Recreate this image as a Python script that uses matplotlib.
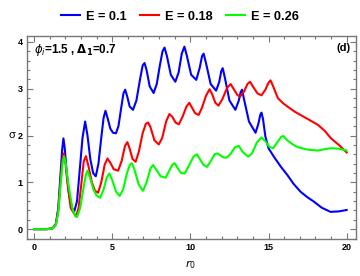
import numpy as np
import matplotlib.pyplot as plt
from matplotlib.ticker import MultipleLocator

# values
r_blue = [0, 0.8, 1.2, 1.4, 1.55, 1.68, 1.8, 1.88, 1.96, 2.08, 2.25, 2.42, 2.58, 2.75, 2.92, 3.1, 3.27,
          3.42, 3.6, 3.78, 3.95, 4.12, 4.3, 4.45, 4.57, 4.7, 4.88, 5.05, 5.24, 5.4, 5.58, 5.72, 5.83,
          5.95, 6.12, 6.33, 6.55, 6.78, 6.95, 7.07, 7.2, 7.4, 7.65, 7.85, 8.05, 8.22, 8.35, 8.5, 8.75,
          9.04, 9.25, 9.45, 9.62, 9.78, 10.05, 10.38, 10.6, 10.75, 10.85, 11.0, 11.3, 11.65, 11.85,
          11.98, 12.07, 12.2, 12.5, 12.88, 13.1, 13.22, 13.31, 13.45, 13.75, 14.17, 14.35, 14.48,
          14.55, 14.65, 14.8, 15.0, 15.34, 15.8, 16.2, 16.6, 17.05, 17.5, 17.9, 18.4, 18.97, 19.5, 20.0]
s_blue = [0, 0, 0.02, 0.12, 0.45, 1.1, 1.7, 1.94, 1.75, 1.25, 0.72, 0.45, 0.385, 0.6, 1.25, 1.95, 2.30,
          2.0, 1.5, 1.2, 1.13, 1.4, 1.95, 2.38, 2.53, 2.38, 2.15, 2.06, 2.05, 2.2, 2.6, 2.9, 2.98,
          2.85, 2.62, 2.55, 2.75, 3.2, 3.5, 3.55, 3.4, 3.05, 2.91, 3.1, 3.5, 3.8, 3.88, 3.7, 3.3,
          3.15, 3.35, 3.75, 3.90, 3.7, 3.3, 3.19, 3.45, 3.7, 3.75, 3.55, 3.1, 2.96, 3.15,
          3.38, 3.44, 3.25, 2.75, 2.55, 2.75, 2.93, 2.98, 2.75, 2.3, 2.06, 2.25, 2.45,
          2.49, 2.35, 1.98, 1.73, 1.55, 1.33, 1.16, 0.97, 0.80, 0.68, 0.59, 0.46, 0.37, 0.38, 0.41]

r_red = [0, 0.8, 1.2, 1.4, 1.55, 1.7, 1.82, 1.9, 2.0, 2.15, 2.35, 2.68, 2.85, 3.02, 3.18, 3.32, 3.48,
         3.7, 3.9, 4.1, 4.3, 4.52, 4.7, 4.88, 5.1, 5.38, 5.6, 5.82, 5.97, 6.12, 6.3, 6.5, 6.7, 6.95,
         7.15, 7.3, 7.45, 7.7, 7.98, 8.2, 8.45, 8.66, 8.85, 9.05, 9.26, 9.5, 9.75, 9.93, 10.1, 10.3,
         10.53, 10.75, 11.0, 11.23, 11.4, 11.6, 11.8, 12.05, 12.35, 12.58, 12.8, 13.0, 13.18, 13.45,
         13.65, 13.82, 14.0, 14.3, 14.55, 14.8, 15.0, 15.13, 15.3, 15.6, 15.93, 16.3, 16.68, 17.1,
         17.53, 18.16, 18.6, 19.0, 19.5, 20.0]
s_red = [0, 0, 0.02, 0.1, 0.4, 1.05, 1.5, 1.62, 1.45, 0.95, 0.45, 0.27, 0.45, 0.95, 1.45, 1.56, 1.35,
         1.0, 0.82, 0.78, 1.0, 1.38, 1.51, 1.42, 1.28, 1.25, 1.45, 1.78, 1.86, 1.72, 1.5, 1.44, 1.65, 2.05,
         2.25, 2.28, 2.18, 1.9, 1.81, 1.95, 2.3, 2.46, 2.4, 2.28, 2.24, 2.4, 2.62, 2.70, 2.6, 2.48,
         2.44, 2.6, 2.85, 2.99, 2.88, 2.7, 2.64, 2.78, 3.02, 3.10, 2.98, 2.87, 2.83, 2.95,
         3.1, 3.15, 3.05, 2.9, 2.86, 2.98, 3.13, 3.18, 3.05, 2.8, 2.69, 2.6, 2.51, 2.43,
         2.35, 2.23, 2.1, 1.94, 1.8, 1.64]

r_green = [0, 0.8, 1.2, 1.4, 1.55, 1.7, 1.82, 1.92, 2.02, 2.2, 2.45, 2.6, 2.75, 2.95, 3.15, 3.32, 3.42,
           3.58, 3.8, 4.0, 4.23, 4.45, 4.65, 4.82, 5.0, 5.25, 5.48, 5.7, 5.95, 6.12, 6.25, 6.4, 6.7,
           6.97, 7.2, 7.45, 7.62, 7.8, 8.1, 8.41, 8.65, 8.85, 9.0, 9.2, 9.4, 9.64, 9.9, 10.2, 10.42,
           10.6, 10.85, 11.06, 11.3, 11.55, 11.74, 11.95, 12.15, 12.33, 12.6, 12.85, 13.1, 13.35, 13.7,
           13.95, 14.25, 14.55, 14.8, 15.05, 15.3, 15.55, 15.8, 15.93, 16.2, 16.6, 16.9, 17.5, 18.16,
           18.6, 19.0, 19.5, 20.0]
s_green = [0, 0, 0.02, 0.1, 0.35, 0.95, 1.4, 1.56, 1.42, 0.95, 0.45, 0.3, 0.26, 0.45, 0.85, 1.17, 1.25,
           1.1, 0.85, 0.72, 0.67, 0.85, 1.1, 1.19, 1.05, 0.8, 0.71, 0.85, 1.2, 1.37, 1.41, 1.3, 0.95,
           0.82, 1.0, 1.3, 1.37, 1.28, 1.13, 1.10, 1.25, 1.38, 1.41, 1.3, 1.2, 1.19, 1.35, 1.55, 1.60,
           1.5, 1.37, 1.33, 1.45, 1.6, 1.62, 1.57, 1.53, 1.53, 1.62, 1.75, 1.78, 1.65, 1.55,
           1.62, 1.85, 1.96, 1.88, 1.76, 1.73, 1.85, 1.97, 1.99, 1.9, 1.8, 1.75, 1.7, 1.68,
           1.71, 1.73, 1.72, 1.68]

labels = ["E = 0.1", "E = 0.18", "E = 0.26"]
colors = ["#0000ff", "#ff0000", "#00ff00"]

plt.rcParams['font.family'] = ['Liberation Sans', 'DejaVu Sans']

fig = plt.figure(figsize=(3.6, 2.76), dpi=100)
ax = fig.add_axes([0.075, 0.134, 0.914, 0.736])

for r, s, c, lab in zip([r_blue, r_red, r_green], [s_blue, s_red, s_green], colors, labels):
    ax.plot(r, s, color=c, lw=1.5, label=lab)

ax.set_xlim(-0.45, 20.6)
ax.set_ylim(-0.21, 4.13)
ax.xaxis.set_major_locator(MultipleLocator(5))
ax.xaxis.set_minor_locator(MultipleLocator(1))
ax.yaxis.set_major_locator(MultipleLocator(1))
ax.yaxis.set_minor_locator(MultipleLocator(0.2))
ax.tick_params(which='both', direction='in', top=True, right=True, color='#777777', width=0.8)
ax.tick_params(which='major', length=4, labelsize=6.5, pad=3)
ax.tick_params(which='minor', length=2)
for lab in ax.get_xticklabels() + ax.get_yticklabels():
    lab.set_fontweight('bold')
for sp in ax.spines.values():
    sp.set_color('#777777')
    sp.set_linewidth(1.0)

ax.text(0.02, 0.93, r"$\boldsymbol{\phi_i}$=1.5 , $\mathbf{\Delta_1}$=0.7", transform=ax.transAxes,
        fontsize=8.4, fontweight='bold', va='center', ha='left')
ax.text(0.985, 0.94, "(d)", transform=ax.transAxes, fontsize=8, fontweight='bold',
        va='center', ha='right')

fig.text(0.033, 0.51, "σ", fontsize=8, ha='center', va='center')
fig.text(0.53, 0.04, r"$r_0$", fontsize=8, ha='center', va='center')

fig.legend(loc='center', bbox_to_anchor=(0.5, 0.94), ncol=3, frameon=False,
           prop={'weight': 'bold', 'size': 9.2}, handlelength=1.5, columnspacing=1.0,
           handletextpad=0.5)

fig.savefig("out.png", dpi=100)
